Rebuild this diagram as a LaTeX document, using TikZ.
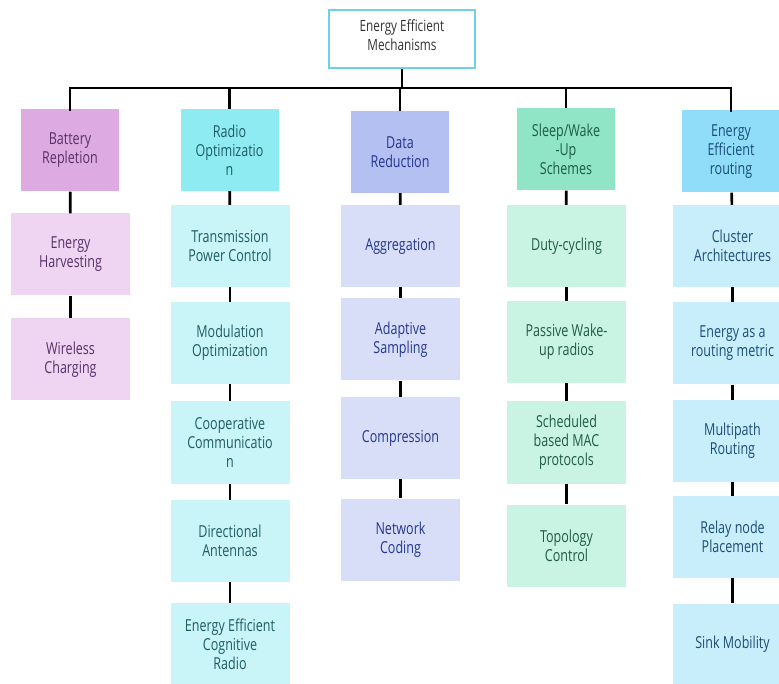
\documentclass[tikz,border=0pt]{standalone}
\usepackage{fontspec}
\setmainfont{Open Sans}[FakeStretch=0.76]
\usetikzlibrary{positioning}

% column palettes: header fill, child fill, text
\definecolor{batH}{HTML}{DDABE2}\definecolor{batC}{HTML}{EFD5F1}\definecolor{batT}{HTML}{57306A}
\definecolor{radH}{HTML}{8FEBF2}\definecolor{radC}{HTML}{C9F4F8}\definecolor{radT}{HTML}{1D5D64}
\definecolor{datH}{HTML}{B4BFF2}\definecolor{datC}{HTML}{D9DEF8}\definecolor{datT}{HTML}{24378F}
\definecolor{slpH}{HTML}{8FE5C6}\definecolor{slpC}{HTML}{C9F3E3}\definecolor{slpT}{HTML}{1F5B47}
\definecolor{rouH}{HTML}{8FDDF9}\definecolor{rouC}{HTML}{C9EEFB}\definecolor{rouT}{HTML}{1A4D78}
\definecolor{rootB}{HTML}{6FD0EE}\definecolor{rootT}{HTML}{333333}

\tikzset{
  card/.style={rectangle, inner sep=0pt, align=center,
    font=\fontsize{16.5}{19}\selectfont, minimum width=119pt, minimum height=82pt},
  hdr/.style={card, minimum width=98pt},
  conn/.style={line width=2.6pt, black},
}

\begin{document}
\begin{tikzpicture}[x=1pt,y=-1pt]
\useasboundingbox (0,0) rectangle (779,684);
\clip (0,0) rectangle (779,684);
\fill[white] (0,0) rectangle (779,684);

% root
\node[rectangle, draw=rootB, line width=1.6pt, fill=white, minimum width=146pt,
  minimum height=58pt, inner sep=0pt, align=center, text=rootT,
  font=\fontsize{15.5}{19}\selectfont] (root) at (402,39) {Energy Efficient\\Mechanisms\\[-11pt]};

% headers
\node[hdr, fill=batH, text=batT] (h1) at (70,150.5) {Battery\\Repletion};
\node[hdr, fill=radH, text=radT] (h2) at (229.5,150) {Radio\\Optimizatio\\n};
\node[hdr, fill=datH, text=datT] (h3) at (400,152) {Data\\Reduction};
\node[hdr, fill=slpH, text=slpT] (h4) at (566,149.5) {Sleep/Wake\\-Up\\Schemes};
\node[hdr, fill=rouH, text=rouT] (h5) at (731,151.5) {Energy\\Efficient\\routing};

% battery repletion
\node[card, fill=batC, text=batT] (b1) at (70.5,254.5) {Energy\\Harvesting};
\node[card, fill=batC, text=batT] (b2) at (70.5,359.5) {Wireless\\Charging};

% radio optimization
\node[card, fill=radC, text=radT] (r1) at (230,246) {Transmission\\Power Control};
\node[card, fill=radC, text=radT] (r2) at (230,343) {Modulation\\Optimization};
\node[card, fill=radC, text=radT] (r3) at (230,442.5) {Cooperative\\Communicatio\\n};
\node[card, fill=radC, text=radT] (r4) at (230,541) {Directional\\Antennas};
\node[card, fill=radC, text=radT] (r5) at (230,644) {Energy Efficient\\Cognitive\\Radio};

% data reduction
\node[card, fill=datC, text=datT] (d1) at (400.5,246) {Aggregation};
\node[card, fill=datC, text=datT] (d2) at (400.5,339.5) {Adaptive\\Sampling};
\node[card, fill=datC, text=datT] (d3) at (400.5,438) {Compression};
\node[card, fill=datC, text=datT] (d4) at (400.5,539.5) {Network\\Coding};

% sleep/wake-up schemes
\node[card, fill=slpC, text=slpT] (s1) at (566.5,246) {Duty-cycling};
\node[card, fill=slpC, text=slpT] (s2) at (566.5,342) {Passive Wake-\\up radios};
\node[card, fill=slpC, text=slpT] (s3) at (566.5,442.5) {Scheduled\\based MAC\\protocols};
\node[card, fill=slpC, text=slpT] (s4) at (566.5,545.5) {Topology\\Control};

% energy efficient routing
\node[card, fill=rouC, text=rouT] (e1) at (732.5,246) {Cluster\\Architectures};
\node[card, fill=rouC, text=rouT] (e2) at (732.5,343.5) {Energy as a\\routing metric};
\node[card, fill=rouC, text=rouT] (e3) at (732.5,441) {Multipath\\Routing};
\node[card, fill=rouC, text=rouT] (e4) at (732.5,537) {Relay node\\Placement};
\node[card, fill=rouC, text=rouT] (e5) at (732.5,644.5) {Sink Mobility};

% bus from the root to every header
\coordinate (busy) at (0,88);
\draw[conn] (root.south) -- (root.south |- busy);
\draw[conn, line cap=rect] (h1.north) -- (h1.north |- busy) -- (h5.north |- busy) -- (h5.north);
\foreach \h in {h2,h3,h4} \draw[conn] (\h.north) -- (\h.north |- busy);

% chains inside each column
\draw[conn] (h1) -- (b1); \draw[conn] (b1) -- (b2);
\draw[conn] (h2) -- (r1); \draw[conn] (r1) -- (r2); \draw[conn] (r2) -- (r3);
\draw[conn] (r3) -- (r4); \draw[conn] (r4) -- (r5);
\draw[conn] (h3) -- (d1); \draw[conn] (d1) -- (d2); \draw[conn] (d2) -- (d3); \draw[conn] (d3) -- (d4);
\draw[conn] (h4) -- (s1); \draw[conn] (s1) -- (s2); \draw[conn] (s2) -- (s3); \draw[conn] (s3) -- (s4);
\draw[conn] (h5) -- (e1); \draw[conn] (e1) -- (e2); \draw[conn] (e2) -- (e3);
\draw[conn] (e3) -- (e4); \draw[conn] (e4) -- (e5);
\end{tikzpicture}
\end{document}
